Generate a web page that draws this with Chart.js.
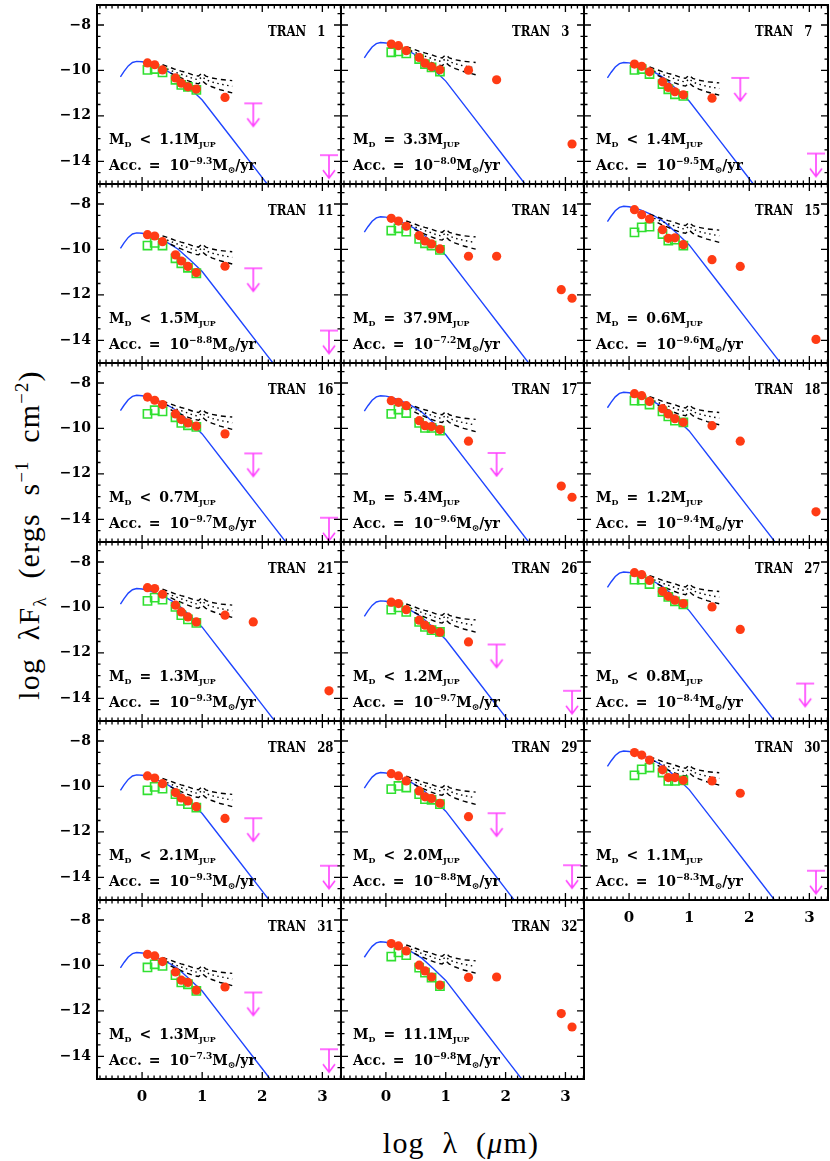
<!DOCTYPE html>
<html>
<head>
<meta charset="utf-8">
<script src="https://cdn.jsdelivr.net/npm/chart.js@4.4.1/dist/chart.umd.min.js"></script>
<style>
  body { margin: 0; background: #fff; }
  #page { position: relative; width: 830px; height: 1161px; overflow: hidden; background: #fff; }
  #page canvas { position: absolute; }
  .title { position: absolute; font-family: "Liberation Serif", serif; color: #000; white-space: nowrap; text-align: center; }
  .title sub, .title sup { font-size: 62%; line-height: 0; }
  #ytitle { left: -181px; top: 515px; width: 420px; height: 40px; line-height: 40px; font-size: 30px; letter-spacing: 1.2px; word-spacing: 9px; transform: rotate(-90deg); }
  #xtitle { left: 261px; top: 1123px; width: 400px; height: 40px; line-height: 40px; font-size: 30px; letter-spacing: 1.2px; word-spacing: 9px; }
</style>
</head>
<body>
<div id="page">
  <div class="title" id="ytitle">log λF<sub>λ</sub> (ergs s<sup>−1</sup> cm<sup>−2</sup>)</div>
  <div class="title" id="xtitle">log λ (<i>μ</i>m)</div>
</div>
<script>
// panels, in reading order (3 per row)
const panelNames = ['TRAN 1', 'TRAN 3', 'TRAN 7', 'TRAN 11', 'TRAN 14', 'TRAN 15', 'TRAN 16', 'TRAN 17', 'TRAN 18',
                    'TRAN 21', 'TRAN 26', 'TRAN 27', 'TRAN 28', 'TRAN 29', 'TRAN 30', 'TRAN 31', 'TRAN 32'];
const massSign = ['<', '=', '<', '<', '=', '=', '<', '=', '=', '=', '<', '<', '<', '<', '<', '<', '='];
const diskMass = ['1.1', '3.3', '1.4', '1.5', '37.9', '0.6', '0.7', '5.4', '1.2', '1.3', '1.2', '0.8', '2.1', '2.0', '1.1', '1.3', '11.1'];
const accExp = ['−9.3', '−8.0', '−9.5', '−8.8', '−7.2', '−9.6', '−9.7', '−9.6', '−9.4', '−9.3', '−9.7', '−8.4', '−9.3', '−8.8', '−8.3', '−7.3', '−9.8'];

// photometry: J H K 3.6 4.5 5.8 8.0 24 70 850um 1.3mm
const bandX = [0.09, 0.21, 0.34, 0.556, 0.653, 0.763, 0.903, 1.38, 1.85, 2.93, 3.11];
const redFlux = [
  [-9.67, -9.75, -9.98, -10.33, -10.56, -10.72, -10.82, -11.19, null, null, null],
  [-8.84, -8.91, -9.13, -9.43, -9.68, -9.84, -9.97, -9.99, -10.41, null, -13.24],
  [-9.72, -9.82, -10.06, -10.5, -10.75, -10.94, -11.07, -11.22, null, null, null],
  [-9.35, -9.41, -9.66, -10.24, -10.51, -10.75, -11.02, -10.74, null, null, null],
  [-8.63, -8.75, -8.98, -9.39, -9.63, -9.76, -9.98, -10.3, -10.3, -11.77, -12.15],
  [-8.25, -8.47, -8.66, -9.13, -9.51, -9.49, -9.79, -10.45, -10.75, null, -13.96],
  [-8.62, -8.76, -8.95, -9.36, -9.61, -9.76, -9.9, -10.24, null, null, null],
  [-8.78, -8.85, -9.0, -9.66, -9.88, -9.92, -10.05, -10.56, null, -12.54, -13.03],
  [-8.47, -8.56, -8.81, -9.13, -9.36, -9.57, -9.73, -9.88, -10.56, null, -13.67],
  [-9.13, -9.17, -9.42, -9.9, -10.2, -10.42, -10.64, -10.34, -10.64, null, -13.67],
  [-9.77, -9.83, -10.1, -10.56, -10.78, -10.97, -11.09, -11.52, null, null, null],
  [-8.47, -8.56, -8.81, -9.29, -9.51, -9.68, -9.83, -9.98, -10.97, null, null],
  [-9.54, -9.63, -9.88, -10.27, -10.51, -10.64, -10.89, -11.41, null, null, null],
  [-9.44, -9.54, -9.76, -10.2, -10.46, -10.53, -10.74, -11.33, null, null, null],
  [-8.51, -8.62, -8.84, -9.27, -9.61, -9.61, -9.73, -9.76, -10.3, null, null],
  [-9.51, -9.58, -9.83, -10.29, -10.65, -10.75, -11.09, -10.95, null, null, null],
  [-9.04, -9.14, -9.36, -9.99, -10.24, -10.51, -10.87, -10.53, -10.51, -12.12, -12.71]
];
// green squares at J..8.0um
const greenFlux = [
  [-9.98, -9.94, -10.09, -10.41, -10.64, -10.72, -10.86],
  [-9.2, -9.16, -9.25, -9.5, -9.72, -9.87, -10.05],
  [-9.98, -9.94, -10.16, -10.6, -10.83, -11.05, -11.12],
  [-9.83, -9.71, -9.83, -10.39, -10.61, -10.81, -11.05],
  [-9.17, -9.07, -9.22, -9.54, -9.73, -9.83, -10.02],
  [-9.25, -9.03, -9.0, -9.32, -9.61, -9.57, -9.83],
  [-9.36, -9.2, -9.25, -9.51, -9.76, -9.86, -9.93],
  [-9.36, -9.17, -9.32, -9.76, -9.98, -9.98, -10.1],
  [-8.78, -8.78, -8.95, -9.25, -9.47, -9.66, -9.73],
  [-9.71, -9.57, -9.66, -9.98, -10.34, -10.53, -10.68],
  [-10.1, -10.0, -10.2, -10.64, -10.86, -11.0, -11.08],
  [-8.78, -8.78, -8.97, -9.32, -9.54, -9.73, -9.86],
  [-10.17, -10.02, -10.1, -10.34, -10.64, -10.78, -10.93],
  [-10.12, -9.98, -10.05, -10.34, -10.56, -10.59, -10.78],
  [-9.51, -9.25, -9.17, -9.39, -9.76, -9.76, -9.73],
  [-10.09, -9.95, -10.02, -10.43, -10.75, -10.83, -11.12],
  [-9.61, -9.43, -9.55, -10.1, -10.32, -10.54, -10.91]
];
// upper limits [log lambda, log flux]
const upperLimits = [
  [[1.85, -11.45], [3.11, -13.73]], [], [[1.85, -10.33], [3.11, -13.66]],
  [[1.85, -10.83], [3.11, -13.57]], [], [],
  [[1.85, -11.1], [3.11, -13.93]], [[1.85, -11.08]], [],
  [], [[1.85, -11.63], [3.11, -13.67]], [[2.93, -13.35]],
  [[1.85, -11.4], [3.11, -13.49]], [[1.85, -11.18], [3.11, -13.47]], [[3.11, -13.71]],
  [[1.85, -11.19], [3.11, -13.69]], []
];

// stellar photosphere (blue), read relative to its peak
const photPeak = [-9.6, -8.77, -9.65, -9.27, -8.56, -8.1, -8.54, -8.56, -8.41, -9.17, -9.71, -8.44, -9.49, -9.39, -8.44, -9.43, -8.96];
const photX = [-0.36, -0.3, -0.23, -0.16, -0.09, 0.0, 0.1, 0.2, 0.3, 0.4, 0.5, 0.6, 0.8, 1.0, 1.5, 2.0, 2.5, 3.0];
const photShape = [-0.68, -0.44, -0.2, -0.05, 0, -0.02, -0.08, -0.17, -0.28, -0.4, -0.55, -0.72, -1.2, -1.7, -3.41, -5.12, -6.83, -8.54];

// Taurus median SED and quartiles (black), read relative to their start
const medAnchor = [-9.75, -8.95, -9.85, -9.4, -8.75, -8.45, -8.8, -8.9, -8.6, -9.2, -9.85, -8.6, -9.65, -9.55, -8.7, -9.65, -9.1];
const medX = [0.34, 0.45, 0.55, 0.65, 0.76, 0.86, 0.94, 1.0, 1.06, 1.16, 1.3, 1.5];
const medUpper = [0.0, -0.1, -0.2, -0.28, -0.36, -0.46, -0.5, -0.36, -0.5, -0.58, -0.65, -0.7];
const medMid = [-0.1, -0.22, -0.33, -0.42, -0.52, -0.62, -0.66, -0.52, -0.66, -0.76, -0.85, -0.95];
const medLower = [-0.2, -0.34, -0.47, -0.58, -0.7, -0.8, -0.84, -0.7, -0.84, -0.97, -1.1, -1.24];

const colLeft = [97, 341, 584];
const colWidth = [244, 243, 244];
const rowTop = [5, 184, 363, 542, 721, 900];
const rowHeight = 179;

const page = document.getElementById('page');
const FONT = '"DejaVu Serif", "DejaVu Sans", serif';

function makeArrow() {
  const c = document.createElement('canvas');
  c.width = 20; c.height = 52;
  const g = c.getContext('2d');
  g.strokeStyle = '#ff40ff';
  g.lineWidth = 1.6;
  g.beginPath();
  g.moveTo(1, 26); g.lineTo(19, 26);
  g.moveTo(10, 26); g.lineTo(10, 49);
  g.moveTo(4, 41); g.lineTo(10, 49); g.lineTo(16, 41);
  g.stroke();
  return c;
}
const arrowImg = makeArrow();

const framePlugin = {
  id: 'frame',
  afterDatasetsDraw(chart) {
    const { ctx, chartArea: a, scales: { x, y } } = chart;
    ctx.save();
    ctx.strokeStyle = '#000';
    ctx.lineWidth = 1.3;
    ctx.beginPath();
    for (let k = -7; k <= 33; k++) {
      const px = x.getPixelForValue(k / 10);
      const len = k % 10 === 0 ? 7 : 3.5;
      ctx.moveTo(px, a.bottom); ctx.lineTo(px, a.bottom - len);
      ctx.moveTo(px, a.top); ctx.lineTo(px, a.top + len);
    }
    for (let k = -29; k <= -15; k++) {
      const py = y.getPixelForValue(k / 2);
      const len = k % 4 === 0 ? 7 : 3.5;
      ctx.moveTo(a.left, py); ctx.lineTo(a.left + len, py);
      ctx.moveTo(a.right, py); ctx.lineTo(a.right - len, py);
    }
    ctx.stroke();
    ctx.lineWidth = 2;
    ctx.strokeRect(a.left, a.top, a.width, a.height);
    ctx.restore();
  }
};

// draws a run of text pieces; sx squeezes the glyphs horizontally
function drawParts(ctx, x, y, parts, sx) {
  for (const p of parts) {
    if (p.gap) { x += p.gap; continue; }
    ctx.font = p.f;
    ctx.save();
    ctx.translate(x, y + (p.dy || 0));
    ctx.scale(sx, 1);
    ctx.fillText(p.t, 0, 0);
    ctx.restore();
    x += ctx.measureText(p.t).width * sx;
  }
}

const textPlugin = {
  id: 'panelText',
  afterDraw(chart, args, opts) {
    const i = opts.index;
    const { ctx, chartArea: a } = chart;
    const big = 'bold 14px ' + FONT;
    const name15 = 'bold 15px ' + FONT;
    const small = 'bold 8px ' + FONT;
    const sup = 'bold 9px ' + FONT;
    ctx.save();
    ctx.fillStyle = '#000';
    ctx.textBaseline = 'alphabetic';
    ctx.textAlign = 'left';
    const name = panelNames[i].split(' ');
    drawParts(ctx, a.left + 171, a.top + 31, [{ t: name[0], f: name15 }, { gap: 11 }, { t: name[1], f: name15 }], 0.78);
    drawParts(ctx, a.left + 12, a.top + 139, [
      { t: 'M', f: big }, { t: 'D', f: small, dy: 3 }, { gap: 8 }, { t: massSign[i], f: big }, { gap: 8 },
      { t: diskMass[i] + 'M', f: big }, { t: 'JUP', f: small, dy: 3 }
    ], 1);
    drawParts(ctx, a.left + 12, a.top + 165, [
      { t: 'Acc.', f: big }, { gap: 7 }, { t: '=', f: big }, { gap: 9 }, { t: '10', f: big },
      { t: accExp[i], f: sup, dy: -6 }, { t: 'M', f: big }, { t: '\u2299', f: sup, dy: 3 }, { t: '/yr', f: big }
    ], 1);
    ctx.restore();
  }
};

function noPad(s) {
  s.paddingTop = 0; s.paddingBottom = 0; s.paddingLeft = 0; s.paddingRight = 0;
}

panelNames.forEach((name, i) => {
  const col = i % 3, row = Math.floor(i / 3);
  const showY = col === 0;
  const showX = row === 5 || (row === 4 && col === 2);
  const padL = showY ? 60 : 0, padB = showX ? 32 : 0;
  const w = colWidth[col], h = rowHeight;
  const cv = document.createElement('canvas');
  cv.width = w + 4 + padL;
  cv.height = h + 4 + padB;
  cv.style.left = (colLeft[col] - 2 - padL) + 'px';
  cv.style.top = (rowTop[row] - 2) + 'px';
  page.appendChild(cv);

  const phot = photX.map((x, k) => ({ x, y: photPeak[i] + photShape[k] }));
  const red = bandX.map((x, k) => ({ x, y: redFlux[i][k] })).filter(p => p.y !== null);
  const green = bandX.slice(0, 7).map((x, k) => ({ x, y: greenFlux[i][k] }));
  const lims = upperLimits[i].map(([x, y]) => ({ x, y }));
  const med = arr => medX.map((x, k) => ({ x, y: medAnchor[i] + arr[k] }));
  const medLine = (arr, dash) => ({
    data: med(arr), showLine: true, pointRadius: 0, borderColor: '#000', borderWidth: 1.4,
    borderDash: dash, tension: 0, order: 3
  });

  new Chart(cv, {
    type: 'scatter',
    data: {
      datasets: [
        { data: lims, pointStyle: arrowImg, pointRadius: 5, order: 0 },
        { data: red, pointStyle: 'circle', pointRadius: 4.6, backgroundColor: '#ff3b14', borderWidth: 0, order: 1 },
        { data: green, pointStyle: 'rect', pointRadius: 5.8, backgroundColor: 'rgba(0,0,0,0)', borderColor: '#30e030', borderWidth: 1.6, order: 2 },
        medLine(medUpper, [5, 4]),
        medLine(medMid, [1.5, 3.5]),
        medLine(medLower, [5, 4]),
        { data: phot, showLine: true, pointRadius: 0, borderColor: '#1f45ff', borderWidth: 1.4, tension: 0, order: 5 }
      ]
    },
    options: {
      responsive: false,
      animation: false,
      devicePixelRatio: 1,
      layout: { padding: 2, autoPadding: false },
      events: [],
      plugins: { legend: { display: false }, tooltip: { enabled: false }, panelText: { index: i } },
      scales: {
        x: {
          type: 'linear', min: -0.75, max: 3.31, display: showX,
          grid: { display: false, drawTicks: false }, border: { display: false },
          ticks: { stepSize: 1, includeBounds: false, padding: 9, color: '#000', font: { family: FONT, weight: 'bold', size: 15 } },
          afterFit: s => { noPad(s); if (showX) s.height = padB; }
        },
        y: {
          type: 'linear', min: -15, max: -7.12, display: showY,
          grid: { display: false, drawTicks: false }, border: { display: false },
          ticks: { stepSize: 2, includeBounds: false, padding: 6, color: '#000', font: { family: FONT, weight: 'bold', size: 14 },
                   callback: v => '\u2212' + Math.abs(v) },
          afterFit: s => { noPad(s); if (showY) s.width = padL; }
        }
      }
    },
    plugins: [framePlugin, textPlugin]
  });
});
</script>
</body>
</html>
